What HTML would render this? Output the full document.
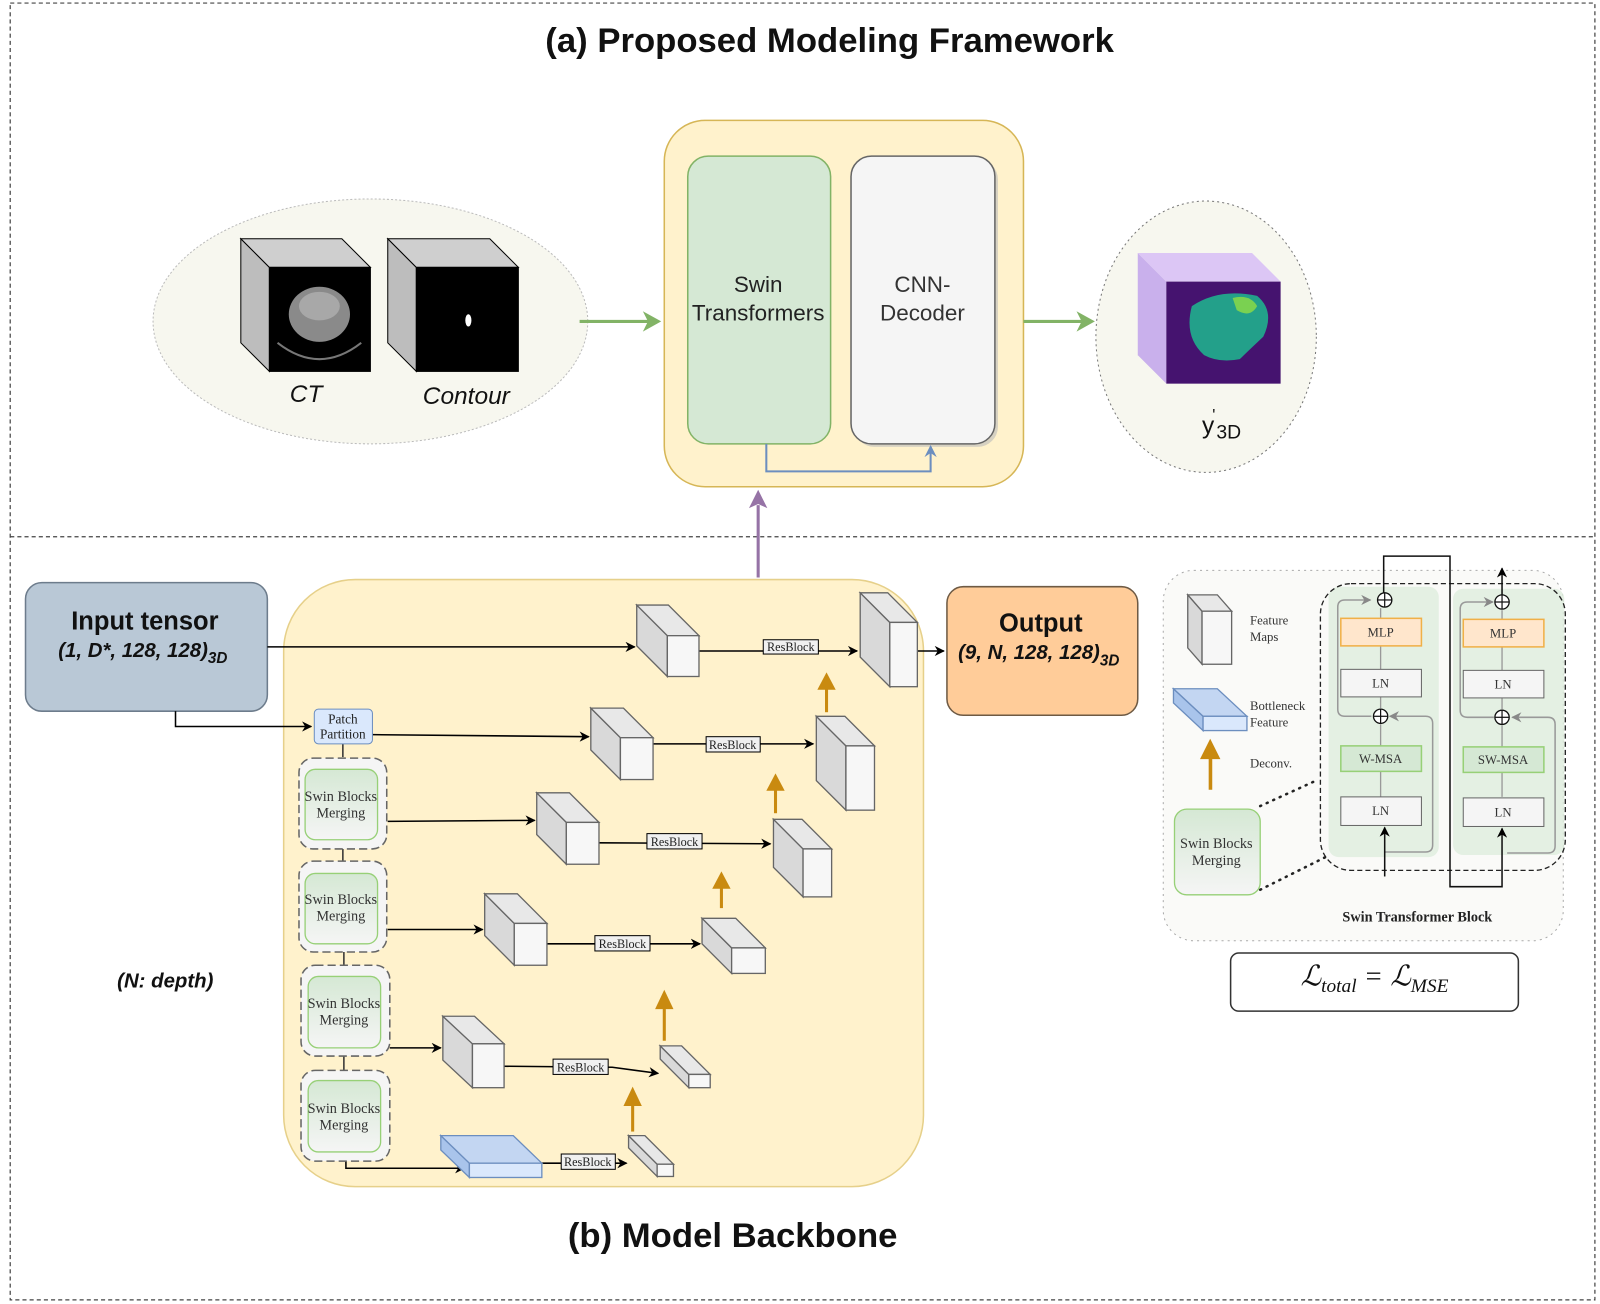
<!DOCTYPE html>
<html><head><meta charset="utf-8"><style>
html,body{margin:0;padding:0;background:#fff;}
svg{display:block;}
.s{font-family:"Liberation Sans",sans-serif;}
.r{font-family:"Liberation Serif",serif;}
</style></head><body>
<svg width="1600" height="1304" viewBox="0 0 1568 1278" preserveAspectRatio="none" xmlns="http://www.w3.org/2000/svg">
<defs>
<marker id="ab" markerWidth="10" markerHeight="10" refX="9" refY="5" orient="auto" markerUnits="userSpaceOnUse"><path d="M0,0 L10,5 L0,10 L3,5 z" fill="#000"/></marker>
<marker id="ag" markerWidth="10" markerHeight="10" refX="9" refY="5" orient="auto" markerUnits="userSpaceOnUse"><path d="M0,0 L10,5 L0,10 L3,5 z" fill="#888"/></marker>
<marker id="abl" markerWidth="12" markerHeight="12" refX="10" refY="6" orient="auto" markerUnits="userSpaceOnUse"><path d="M0,0 L12,6 L0,12 L4,6 z" fill="#6c8ebf"/></marker>
<linearGradient id="gg" x1="0" y1="0" x2="0" y2="1"><stop offset="0" stop-color="#d5e8d4"/><stop offset="1" stop-color="#f5f5f5"/></linearGradient>
</defs>
<rect x="0" y="0" width="1568" height="1278" fill="#fff"/>
<rect x="10" y="3" width="1553" height="1271" fill="none" stroke="#444" stroke-width="1.2" stroke-dasharray="4 3"/>
<line x1="10" y1="526" x2="1563" y2="526" stroke="#444" stroke-width="1.2" stroke-dasharray="4 3"/>

<text x="813" y="51" text-anchor="middle" class="s" font-size="34" font-weight="bold" fill="#111">(a) Proposed Modeling Framework</text>
<text x="718" y="1222" text-anchor="middle" class="s" font-size="34" font-weight="bold" fill="#111">(b) Model Backbone</text>

<!-- input ellipse -->
<ellipse cx="363" cy="315" rx="213" ry="120" fill="#f7f7ef" stroke="#bbb" stroke-dasharray="2 2"/>
<polygon points="236,234 264,262 264,364 236,336" fill="#bdbdbd" stroke="#000"/>
<polygon points="236,234 335,234 363,262 264,262" fill="#cfcfcf" stroke="#000"/>
<rect x="264" y="262" width="99" height="102" fill="#000" stroke="#000"/>
<ellipse cx="313" cy="308" rx="30" ry="27" fill="#8a8a8a"/>
<ellipse cx="313" cy="300" rx="20" ry="14" fill="#a8a8a8"/>
<path d="M272,336 Q313,368 354,336" fill="none" stroke="#777" stroke-width="2"/>
<polygon points="380,234 408,262 408,364 380,336" fill="#bdbdbd" stroke="#000"/>
<polygon points="380,234 480,234 508,262 408,262" fill="#cfcfcf" stroke="#000"/>
<rect x="408" y="262" width="100" height="102" fill="#000" stroke="#000"/>
<ellipse cx="459" cy="314" rx="3" ry="6" fill="#fff"/>
<text x="300" y="394" text-anchor="middle" class="s" font-size="24" font-style="italic" fill="#111">CT</text>
<text x="457" y="396" text-anchor="middle" class="s" font-size="24" font-style="italic" fill="#111">Contour</text>

<line x1="568" y1="315" x2="635" y2="315" stroke="#82b366" stroke-width="3"/>
<polygon points="648,315 630,305 635,315 630,325" fill="#82b366"/>

<!-- framework box -->
<rect x="651" y="118" width="352" height="359" rx="40" fill="#fff2cc" stroke="#d6b656" stroke-width="1.5"/>
<rect x="674" y="153" width="140" height="282" rx="20" fill="#d5e8d4" stroke="#82b366" stroke-width="1.5"/>
<rect x="837" y="156" width="141" height="282" rx="20" fill="#bbb" opacity="0.6"/>
<rect x="834" y="153" width="141" height="282" rx="20" fill="#f5f5f5" stroke="#666" stroke-width="1.5"/>
<text x="743" y="286" text-anchor="middle" class="s" font-size="22" fill="#222">Swin</text>
<text x="743" y="314" text-anchor="middle" class="s" font-size="22" fill="#222">Transformers</text>
<text x="904" y="286" text-anchor="middle" class="s" font-size="22" fill="#333">CNN-</text>
<text x="904" y="314" text-anchor="middle" class="s" font-size="22" fill="#333">Decoder</text>
<path d="M751,435 L751,462 L912,462 L912,438" fill="none" stroke="#6c8ebf" stroke-width="2" marker-end="url(#abl)"/>

<line x1="1003" y1="315" x2="1060" y2="315" stroke="#82b366" stroke-width="3"/>
<polygon points="1073,315 1055,305 1060,315 1055,325" fill="#82b366"/>

<!-- output ellipse -->
<ellipse cx="1182" cy="330" rx="108" ry="133" fill="#f7f7ef" stroke="#777" stroke-dasharray="2 3"/>
<polygon points="1115,248 1143,276 1143,376 1115,348" fill="#c9b0ec"/>
<polygon points="1115,248 1227,248 1255,276 1143,276" fill="#dcc6f5"/>
<rect x="1143" y="276" width="112" height="100" fill="#45136f"/>
<path d="M1168,300 Q1195,282 1232,290 Q1250,305 1238,330 Q1222,345 1215,352 Q1195,356 1180,348 Q1160,330 1168,300 z" fill="#23a08a"/>
<path d="M1208,292 Q1225,288 1232,300 Q1225,312 1212,304 z" fill="#7ad151"/>
<text x="1178" y="425" class="s" font-size="24" fill="#111">y</text>
<text x="1188" y="412" class="s" font-size="16" fill="#111">'</text>
<text x="1192" y="430" class="s" font-size="19" fill="#111">3D</text>

<!-- purple arrow -->
<line x1="743" y1="566" x2="743" y2="495" stroke="#9673a6" stroke-width="3"/>
<polygon points="743,480 734,498 743,494 752,498" fill="#9673a6"/>

<!-- input tensor -->
<rect x="25" y="571" width="237" height="126" rx="16" fill="#b9c8d6" stroke="#6d7c8c" stroke-width="1.5"/>
<text x="142" y="617" text-anchor="middle" class="s" font-size="25" font-weight="bold" fill="#111">Input tensor</text>
<text x="140" y="644" text-anchor="middle" class="s" font-size="20" font-weight="bold" font-style="italic" fill="#111">(1, D*, 128, 128)<tspan font-size="15" dy="6">3D</tspan></text>

<!-- backbone -->
<rect x="278" y="568" width="627" height="595" rx="70" fill="#fff2cc" stroke="#e6d08a" stroke-width="1.5"/>

<!-- output -->
<rect x="928" y="575" width="187" height="126" rx="16" fill="#ffcc99" stroke="#6e5a44" stroke-width="1.5"/>
<text x="1020" y="619" text-anchor="middle" class="s" font-size="25" font-weight="bold" fill="#111">Output</text>
<text x="1018" y="646" text-anchor="middle" class="s" font-size="20" font-weight="bold" font-style="italic" fill="#111">(9, N, 128, 128)<tspan font-size="15" dy="6">3D</tspan></text>

<g stroke="#000" stroke-width="1.5" fill="none">
<line x1="262" y1="634" x2="622" y2="634" marker-end="url(#ab)"/>
<path d="M172,697 L172,712 L305,712" marker-end="url(#ab)"/>
<line x1="685" y1="638" x2="840" y2="638" marker-end="url(#ab)"/>
<line x1="898" y1="638" x2="925" y2="638" marker-end="url(#ab)"/>
<line x1="365" y1="720" x2="577" y2="722" marker-end="url(#ab)"/>
<line x1="640" y1="729" x2="797" y2="729" marker-end="url(#ab)"/>
<line x1="380" y1="805" x2="524" y2="804" marker-end="url(#ab)"/>
<line x1="586" y1="826" x2="755" y2="827" marker-end="url(#ab)"/>
<line x1="380" y1="911" x2="473" y2="911" marker-end="url(#ab)"/>
<line x1="536" y1="925" x2="686" y2="925" marker-end="url(#ab)"/>
<line x1="382" y1="1027" x2="432" y2="1027" marker-end="url(#ab)"/>
<path d="M494,1045 L600,1046 L645,1052" marker-end="url(#ab)"/>
<path d="M339,1138 L339,1145 L455,1145" marker-end="url(#ab)"/>
<line x1="531" y1="1140" x2="614" y2="1140" marker-end="url(#ab)"/>
</g>
<g stroke="#333" stroke-width="1.5">
<line x1="336" y1="729" x2="336" y2="742"/>
<line x1="336" y1="832" x2="336" y2="844"/>
<line x1="337" y1="933" x2="337" y2="946"/>
<line x1="337" y1="1035" x2="337" y2="1049"/>
</g>

<!-- cubes -->
<g stroke="#666" stroke-width="1.3">
<polygon points="624,593 654,623 654,663 624,633" fill="#d9d9d9"/><polygon points="624,593 655,593 685,623 654,623" fill="#e8e8e8"/><rect x="654" y="623" width="31" height="40" fill="#f7f7f7"/>
<polygon points="843,581 872,610 872,673 843,644" fill="#d9d9d9"/><polygon points="843,581 870,581 899,610 872,610" fill="#e8e8e8"/><rect x="872" y="610" width="27" height="63" fill="#f7f7f7"/>
<polygon points="579,694 608,723 608,764 579,735" fill="#d9d9d9"/><polygon points="579,694 611,694 640,723 608,723" fill="#e8e8e8"/><rect x="608" y="723" width="32" height="41" fill="#f7f7f7"/>
<polygon points="800,702 829,731 829,794 800,765" fill="#d9d9d9"/><polygon points="800,702 828,702 857,731 829,731" fill="#e8e8e8"/><rect x="829" y="731" width="28" height="63" fill="#f7f7f7"/>
<polygon points="526,777 555,806 555,847 526,818" fill="#d9d9d9"/><polygon points="526,777 558,777 587,806 555,806" fill="#e8e8e8"/><rect x="555" y="806" width="32" height="41" fill="#f7f7f7"/>
<polygon points="758,803 787,832 787,879 758,850" fill="#d9d9d9"/><polygon points="758,803 786,803 815,832 787,832" fill="#e8e8e8"/><rect x="787" y="832" width="28" height="47" fill="#f7f7f7"/>
<polygon points="475,876 504,905 504,946 475,917" fill="#d9d9d9"/><polygon points="475,876 507,876 536,905 504,905" fill="#e8e8e8"/><rect x="504" y="905" width="32" height="41" fill="#f7f7f7"/>
<polygon points="688,900 717,929 717,954 688,925" fill="#d9d9d9"/><polygon points="688,900 721,900 750,929 717,929" fill="#e8e8e8"/><rect x="717" y="929" width="33" height="25" fill="#f7f7f7"/>
<polygon points="434,996 463,1023 463,1066 434,1039" fill="#d9d9d9"/><polygon points="434,996 465,996 494,1023 463,1023" fill="#e8e8e8"/><rect x="463" y="1023" width="31" height="43" fill="#f7f7f7"/>
<polygon points="647,1025 675,1053 675,1066 647,1038" fill="#d9d9d9"/><polygon points="647,1025 668,1025 696,1053 675,1053" fill="#e8e8e8"/><rect x="675" y="1053" width="21" height="13" fill="#f7f7f7"/>
<polygon points="616,1113 644,1141 644,1153 616,1125" fill="#d9d9d9"/><polygon points="616,1113 632,1113 660,1141 644,1141" fill="#e8e8e8"/><rect x="644" y="1141" width="16" height="12" fill="#f7f7f7"/>
</g>
<g stroke="#6c8ebf" stroke-width="1.3">
<polygon points="432,1113 460,1140 460,1154 432,1127" fill="#a9c4eb"/><polygon points="432,1113 503,1113 531,1140 460,1140" fill="#c3d6f2"/><rect x="460" y="1140" width="71" height="14" fill="#dae8fc"/>
</g>

<!-- ResBlocks -->
<g class="r" font-size="12" text-anchor="middle" fill="#222">
<rect x="748" y="627" width="54" height="14" fill="#f0f0f0" stroke="#000"/><text x="775" y="638">ResBlock</text>
<rect x="692" y="722" width="53" height="15" fill="#f0f0f0" stroke="#000"/><text x="718" y="734">ResBlock</text>
<rect x="634" y="817" width="54" height="15" fill="#f0f0f0" stroke="#000"/><text x="661" y="829">ResBlock</text>
<rect x="583" y="917" width="54" height="15" fill="#f0f0f0" stroke="#000"/><text x="610" y="929">ResBlock</text>
<rect x="542" y="1038" width="54" height="15" fill="#f0f0f0" stroke="#000"/><text x="569" y="1050">ResBlock</text>
<rect x="550" y="1131" width="53" height="15" fill="#f0f0f0" stroke="#000"/><text x="576" y="1143">ResBlock</text>
</g>

<!-- deconv arrows -->
<g fill="#c98a10" stroke="none">
<rect x="808.5" y="674" width="3" height="24"/><polygon points="810,659 801,676 819,676"/>
<rect x="758.5" y="774" width="3" height="23"/><polygon points="760,758 751,775 769,775"/>
<rect x="705.5" y="869" width="3" height="21"/><polygon points="707,854 698,871 716,871"/>
<rect x="649.5" y="987" width="3" height="33"/><polygon points="651,970 642,989 660,989"/>
<rect x="618.5" y="1082" width="3" height="27"/><polygon points="620,1065 611,1084 629,1084"/>
</g>

<!-- patch partition -->
<rect x="308" y="695" width="57" height="34" rx="4" fill="#dae8fc" stroke="#6c8ebf"/>
<text x="336" y="709" text-anchor="middle" class="r" font-size="13" fill="#222">Patch</text>
<text x="336" y="724" text-anchor="middle" class="r" font-size="13" fill="#222">Partition</text>

<!-- swin blocks -->
<g class="r" font-size="14" text-anchor="middle" fill="#333">
<rect x="293" y="743" width="86" height="89" rx="14" fill="#f5f5f5" stroke="#666" stroke-width="1.5" stroke-dasharray="8 4"/>
<rect x="299" y="754" width="71" height="69" rx="10" fill="url(#gg)" stroke="#97d077" stroke-width="1.3"/>
<text x="334" y="785">Swin Blocks</text><text x="334" y="801">Merging</text>
<rect x="293" y="844" width="86" height="89" rx="14" fill="#f5f5f5" stroke="#666" stroke-width="1.5" stroke-dasharray="8 4"/>
<rect x="299" y="856" width="71" height="69" rx="10" fill="url(#gg)" stroke="#97d077" stroke-width="1.3"/>
<text x="334" y="886">Swin Blocks</text><text x="334" y="902">Merging</text>
<rect x="295" y="946" width="87" height="89" rx="14" fill="#f5f5f5" stroke="#666" stroke-width="1.5" stroke-dasharray="8 4"/>
<rect x="302" y="957" width="71" height="70" rx="10" fill="url(#gg)" stroke="#97d077" stroke-width="1.3"/>
<text x="337" y="988">Swin Blocks</text><text x="337" y="1004">Merging</text>
<rect x="295" y="1049" width="87" height="89" rx="14" fill="#f5f5f5" stroke="#666" stroke-width="1.5" stroke-dasharray="8 4"/>
<rect x="302" y="1059" width="71" height="70" rx="10" fill="url(#gg)" stroke="#97d077" stroke-width="1.3"/>
<text x="337" y="1091">Swin Blocks</text><text x="337" y="1107">Merging</text>
</g>

<text x="162" y="968" text-anchor="middle" class="s" font-size="20" font-weight="bold" font-style="italic" fill="#111">(N: depth)</text>

<!-- legend -->
<rect x="1140" y="559" width="392" height="363" rx="30" fill="#fafaf8" stroke="#aaa" stroke-dasharray="2 4"/>
<g stroke="#666" stroke-width="1.3">
<polygon points="1164,583 1178,599 1178,651 1164,635" fill="#d9d9d9"/><polygon points="1164,583 1193,583 1207,599 1178,599" fill="#e8e8e8"/><rect x="1178" y="599" width="29" height="52" fill="#f7f7f7"/>
</g>
<g stroke="#6c8ebf" stroke-width="1.3">
<polygon points="1150,675 1179,702 1179,716 1150,689" fill="#a9c4eb"/><polygon points="1150,675 1193,675 1222,702 1179,702" fill="#c3d6f2"/><rect x="1179" y="702" width="43" height="14" fill="#dae8fc"/>
</g>
<rect x="1184.5" y="742" width="3.5" height="32" fill="#c98a10"/><polygon points="1186,724 1176,744 1196,744" fill="#c98a10"/>
<g class="r" font-size="12.5" fill="#333">
<text x="1225" y="612">Feature</text><text x="1225" y="628">Maps</text>
<text x="1225" y="696">Bottleneck</text><text x="1225" y="712">Feature</text>
<text x="1225" y="752">Deconv.</text>
</g>
<rect x="1151" y="793" width="84" height="84" rx="12" fill="url(#gg)" stroke="#97d077" stroke-width="1.3"/>
<text x="1192" y="831" text-anchor="middle" class="r" font-size="14" fill="#333">Swin Blocks</text>
<text x="1192" y="848" text-anchor="middle" class="r" font-size="14" fill="#333">Merging</text>
<line x1="1235" y1="790" x2="1292" y2="764" stroke="#222" stroke-width="2.5" stroke-dasharray="1 6" stroke-linecap="round"/>
<line x1="1235" y1="872" x2="1299" y2="840" stroke="#222" stroke-width="2.5" stroke-dasharray="1 6" stroke-linecap="round"/>

<rect x="1302" y="575" width="108" height="265" rx="10" fill="#dfeedd" opacity="0.8"/>
<rect x="1424" y="577" width="109" height="261" rx="10" fill="#dfeedd" opacity="0.8"/>
<rect x="1294" y="572" width="240" height="281" rx="30" fill="none" stroke="#222" stroke-width="1.3" stroke-dasharray="5 3"/>

<g stroke="#999" stroke-width="1.3">
<line x1="1353" y1="596" x2="1353" y2="694"/><line x1="1353" y1="710" x2="1353" y2="781"/>
<line x1="1472" y1="598" x2="1472" y2="695"/><line x1="1472" y1="711" x2="1472" y2="781"/>
</g>
<g fill="none" stroke="#999" stroke-width="1.5">
<path d="M1344,702 L1318,702 Q1311,702 1311,695 L1311,595 Q1311,588 1318,588 L1343,588" marker-end="url(#ag)"/>
<path d="M1357,835 L1397,835 Q1404,835 1404,828 L1404,709 Q1404,702 1397,702 L1362,702" marker-end="url(#ag)"/>
<path d="M1464,703 L1438,703 Q1431,703 1431,696 L1431,597 Q1431,590 1438,590 L1463,590" marker-end="url(#ag)"/>
<path d="M1477,836 L1517,836 Q1524,836 1524,829 L1524,710 Q1524,703 1517,703 L1482,703" marker-end="url(#ag)"/>
</g>
<g class="r" font-size="12.5" text-anchor="middle" fill="#333">
<rect x="1314" y="606" width="79" height="27" fill="#ffe6cc" stroke="#f0b048" stroke-width="1.5"/><text x="1353" y="624">MLP</text>
<rect x="1434" y="607" width="79" height="27" fill="#ffe6cc" stroke="#f0b048" stroke-width="1.5"/><text x="1473" y="625">MLP</text>
<rect x="1314" y="656" width="79" height="27" fill="#f5f5f5" stroke="#666"/><text x="1353" y="674">LN</text>
<rect x="1434" y="657" width="79" height="27" fill="#f5f5f5" stroke="#666"/><text x="1473" y="675">LN</text>
<rect x="1314" y="731" width="79" height="25" fill="#d5e8d4" stroke="#97d077" stroke-width="1.5"/><text x="1353" y="748">W-MSA</text>
<rect x="1434" y="732" width="79" height="25" fill="#d5e8d4" stroke="#97d077" stroke-width="1.5"/><text x="1473" y="749">SW-MSA</text>
<rect x="1314" y="781" width="79" height="28" fill="#f5f5f5" stroke="#666"/><text x="1353" y="799">LN</text>
<rect x="1434" y="782" width="79" height="28" fill="#f5f5f5" stroke="#666"/><text x="1473" y="800">LN</text>
</g>
<g fill="#fff" stroke="#111" stroke-width="1.3">
<circle cx="1357" cy="588" r="7"/><circle cx="1472" cy="590" r="7"/><circle cx="1353" cy="702" r="7"/><circle cx="1472" cy="703" r="7"/>
</g>
<g stroke="#111" stroke-width="1.2">
<line x1="1350" y1="588" x2="1364" y2="588"/><line x1="1357" y1="581" x2="1357" y2="595"/>
<line x1="1465" y1="590" x2="1479" y2="590"/><line x1="1472" y1="583" x2="1472" y2="597"/>
<line x1="1346" y1="702" x2="1360" y2="702"/><line x1="1353" y1="695" x2="1353" y2="709"/>
<line x1="1465" y1="703" x2="1479" y2="703"/><line x1="1472" y1="696" x2="1472" y2="710"/>
</g>
<g fill="none" stroke="#111" stroke-width="1.5">
<path d="M1356,581 L1356,545 L1421,545 L1421,869 L1472,869 L1472,812" marker-end="url(#ab)"/>
<line x1="1357" y1="859" x2="1357" y2="811" marker-end="url(#ab)"/>
<line x1="1472" y1="583" x2="1472" y2="557" marker-end="url(#ab)"/>
</g>
<text x="1389" y="903" text-anchor="middle" class="r" font-size="14" font-weight="bold" fill="#222">Swin Transformer Block</text>

<rect x="1206" y="934" width="282" height="57" rx="8" fill="#fff" stroke="#333" stroke-width="1.5"/>
<text x="1347" y="966" text-anchor="middle" class="r" font-size="28" font-style="italic" fill="#111">ℒ<tspan font-size="19" dy="6">total</tspan><tspan dy="-6"> = ℒ</tspan><tspan font-size="19" dy="6">MSE</tspan></text>
</svg>
</body></html>
